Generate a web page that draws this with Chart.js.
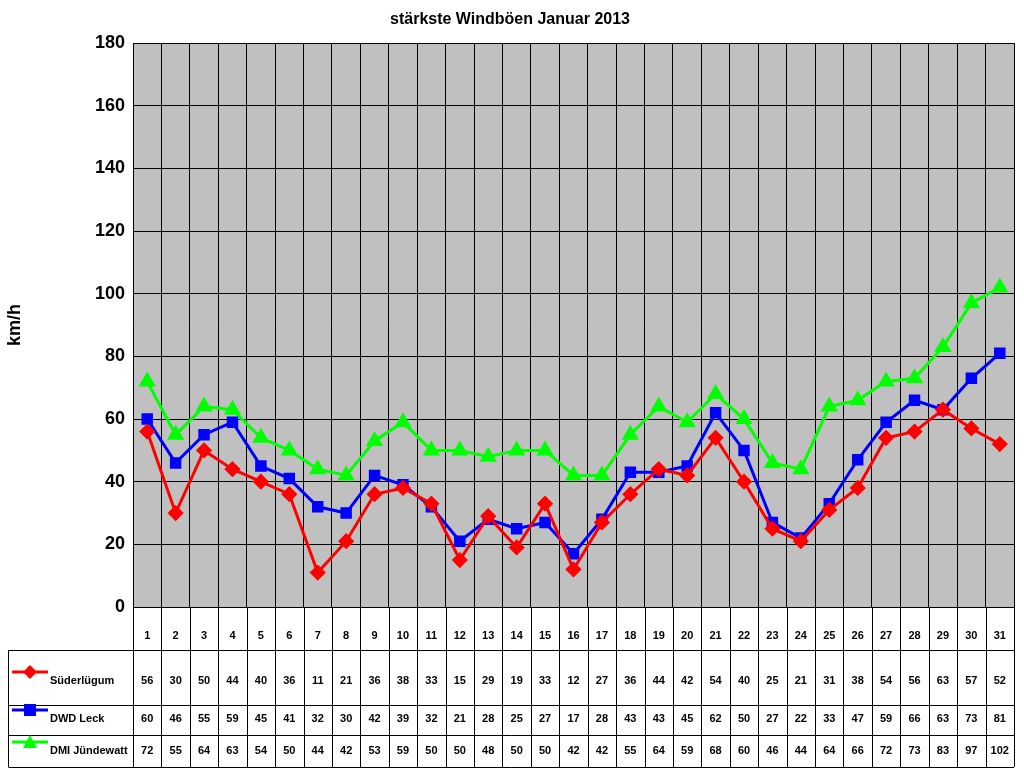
<!DOCTYPE html>
<html><head><meta charset="utf-8">
<script src="https://cdn.jsdelivr.net/npm/chart.js@4.4.0/dist/chart.umd.min.js"></script>
<style>body{margin:0;background:#fff}</style></head>
<body><canvas id="c" width="1024" height="768"></canvas>
<script>
const days = Array.from({length:31},(_,i)=>String(i+1));
const suederluegum = [56,30,50,44,40,36,11,21,36,38,33,15,29,19,33,12,27,36,44,42,54,40,25,21,31,38,54,56,63,57,52];
const dwdLeck = [60,46,55,59,45,41,32,30,42,39,32,21,28,25,27,17,28,43,43,45,62,50,27,22,33,47,59,66,63,73,81];
const dmiJuendewatt = [72,55,64,63,54,50,44,42,53,59,50,50,48,50,50,42,42,55,64,59,68,60,46,44,64,66,72,73,83,97,102];
const seriesNames = ['Süderlügum','DWD Leck','DMI Jündewatt'];
const colors = ['#ff0000','#0000ff','#00ff00'];
const styles = ['rectRot','rect','triangle'];
const allData = [suederluegum,dwdLeck,dmiJuendewatt];

const tablePlugin = {
  id:'table',
  beforeDraw(chart){
    const {ctx, chartArea:a} = chart;
    ctx.save(); ctx.fillStyle='#c0c0c0';
    ctx.fillRect(a.left,a.top,a.right-a.left,a.bottom-a.top); ctx.restore();
  },
  afterDraw(chart){
    const {ctx, chartArea:a, scales:{x}} = chart;
    const rows=[a.bottom, 650, 705, 735, 767];
    const step = (x.getPixelForValue(1)-x.getPixelForValue(0));
    ctx.save();
    ctx.strokeStyle='#000'; ctx.lineWidth=1;
    ctx.beginPath();
    for(let i=0;i<=31;i++){
      const px=Math.round(x.getPixelForValue(i)-step/2)+0.5;
      ctx.moveTo(px,a.bottom); ctx.lineTo(px,rows[4]);
    }
    ctx.moveTo(8.5,rows[1]); ctx.lineTo(8.5,rows[4]);
    for(let r=1;r<5;r++){ctx.moveTo(8.5,rows[r]+0.5); ctx.lineTo(a.right,rows[r]+0.5);}
    ctx.stroke();
    ctx.fillStyle='#000'; ctx.font='bold 11px Arial, "Liberation Sans"';
    ctx.textAlign='center'; ctx.textBaseline='middle';
    days.forEach((d,i)=>ctx.fillText(d,x.getPixelForValue(i),636));
    const ty=[681,719,751];
    allData.forEach((arr,s)=>{
      ctx.fillStyle='#000';
      ctx.textAlign='center';
      arr.forEach((v,i)=>ctx.fillText(String(v),x.getPixelForValue(i),ty[s]));
      const ly=ty[s]-9;
      ctx.strokeStyle=colors[s]; ctx.lineWidth=3;
      ctx.beginPath(); ctx.moveTo(12,ly); ctx.lineTo(48,ly); ctx.stroke();
      ctx.fillStyle=colors[s];
      ctx.beginPath();
      if(s===0){ctx.moveTo(30,ly-7);ctx.lineTo(37,ly);ctx.lineTo(30,ly+7);ctx.lineTo(23,ly);}
      else if(s===1){ctx.rect(24,ly-6,12,12);}
      else {ctx.moveTo(30,ly-7);ctx.lineTo(37,ly+6);ctx.lineTo(23,ly+6);}
      ctx.closePath(); ctx.fill();
      ctx.fillStyle='#000'; ctx.textAlign='left';
      ctx.fillText(seriesNames[s],50,ty[s]);
    });
    ctx.restore();
  }
};

new Chart(document.getElementById('c'),{
  type:'line',
  data:{labels:days,datasets:allData.map((d,s)=>({
    label:seriesNames[s],data:d,borderColor:colors[s],backgroundColor:colors[s],
    borderWidth:3,pointStyle:styles[s],pointRadius:s===2?7:6,pointHoverRadius:6,tension:0
  }))},
  options:{
    responsive:false,animation:false,
    layout:{padding:{top:0,bottom:161,right:4,left:0}},
    plugins:{legend:{display:false},tooltip:{enabled:false},
      title:{display:true,text:'stärkste Windböen Januar 2013',color:'#000',
        font:{family:'Arial, "Liberation Sans"',size:16,weight:'bold'},padding:{top:10,bottom:14}}},
    scales:{
      x:{offset:true,grid:{offset:true,color:'#000',drawTicks:false},border:{color:'#000'},
        ticks:{display:false}},
      y:{min:0,max:180,afterFit(s){s.width=133;},
        ticks:{stepSize:20,color:'#000',font:{family:'Arial, "Liberation Sans"',size:18,weight:'bold'},padding:8},
        grid:{color:'#000',drawTicks:false},border:{color:'#000'},
        title:{display:true,text:'km/h',color:'#000',font:{family:'Arial, "Liberation Sans"',size:18,weight:'bold'}}}
    }
  },
  plugins:[tablePlugin]
});
</script></body></html>
